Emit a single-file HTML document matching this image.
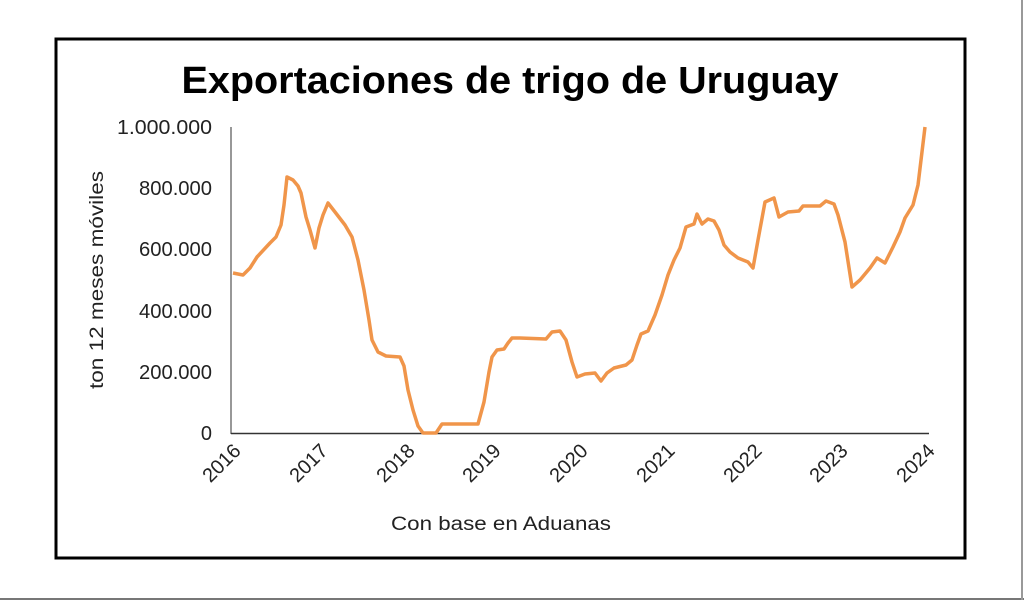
<!DOCTYPE html>
<html><head><meta charset="utf-8"><style>
html,body{margin:0;padding:0;background:#fff;}
body{width:1024px;height:602px;overflow:hidden;position:relative;font-family:"Liberation Sans",Arial,sans-serif;}
</style></head><body>
<svg width="1024" height="602" xmlns="http://www.w3.org/2000/svg" style="position:absolute;left:0;top:0">
<rect x="0" y="0" width="1024" height="602" fill="#fff"/>
<line x1="0" y1="599" x2="1024" y2="599" stroke="#777" stroke-width="2"/>
<line x1="1022" y1="0" x2="1022" y2="600" stroke="#999" stroke-width="2"/>
<rect x="56" y="39" width="909" height="519" fill="#fff" stroke="#000" stroke-width="3"/>
<text x="510" y="93" text-anchor="middle" font-size="38" font-weight="bold" fill="#000" textLength="657" lengthAdjust="spacingAndGlyphs">Exportaciones de trigo de Uruguay</text>
<g font-size="20" fill="#222" text-anchor="end">
<text x="212" y="134" textLength="95" lengthAdjust="spacingAndGlyphs">1.000.000</text>
<text x="212" y="195" textLength="73" lengthAdjust="spacingAndGlyphs">800.000</text>
<text x="212" y="256" textLength="73" lengthAdjust="spacingAndGlyphs">600.000</text>
<text x="212" y="318" textLength="73" lengthAdjust="spacingAndGlyphs">400.000</text>
<text x="212" y="379" textLength="73" lengthAdjust="spacingAndGlyphs">200.000</text>
<text x="212" y="440">0</text>
</g>
<text transform="translate(103,280) rotate(-90)" text-anchor="middle" font-size="19" fill="#222" textLength="218" lengthAdjust="spacingAndGlyphs">ton 12 meses móviles</text>
<line x1="231" y1="127" x2="231" y2="434" stroke="#777" stroke-width="1.5"/>
<line x1="231" y1="433.5" x2="929" y2="433.5" stroke="#333" stroke-width="1.5"/>
<g font-size="20" fill="#222" text-anchor="end">
<text transform="translate(242,452) rotate(-45)">2016</text>
<text transform="translate(329,452) rotate(-45)">2017</text>
<text transform="translate(416,452) rotate(-45)">2018</text>
<text transform="translate(502,452) rotate(-45)">2019</text>
<text transform="translate(589,452) rotate(-45)">2020</text>
<text transform="translate(676,452) rotate(-45)">2021</text>
<text transform="translate(763,452) rotate(-45)">2022</text>
<text transform="translate(849,452) rotate(-45)">2023</text>
<text transform="translate(936,452) rotate(-45)">2024</text>
</g>
<text x="501" y="530" text-anchor="middle" font-size="19" fill="#222" textLength="220" lengthAdjust="spacingAndGlyphs">Con base en Aduanas</text>
<polyline fill="none" stroke="#f0954a" stroke-width="3.5" stroke-linejoin="round" points="233,273 243,275 250,268 257,257 270,243 276,237 281,225 284,205 287,177 293,180 298,186 301,193 306,217 310,230 315,248 319,228 323,215 328,203 335,212 345,225 352,237 358,260 364,290 369,320 372,340 378,352 386,356 400,357 404,366 408,390 413,410 418,426 423,433 436,433 442,424 478,424 484,402 489,372 492,357 497,350 504,349 508,343 512,338 520,338 546,339 552,332 560,331 566,340 572,362 577,377 585,374 595,373 601,381 607,373 614,368 626,365 632,360 637,345 641,334 648,331 655,315 662,295 668,275 674,260 680,248 686,227 694,224 697,214 702,224 708,219 714,221 719,230 724,245 730,252 738,258 748,262 753,268 758,240 765,202 774,198 779,217 788,212 799,211 803,206 820,206 826,201 834,204 838,215 845,242 852,287 860,280 870,268 877,258 885,263 893,247 900,232 905,218 913,205 918,185 925,127"/>
</svg>
</body></html>
